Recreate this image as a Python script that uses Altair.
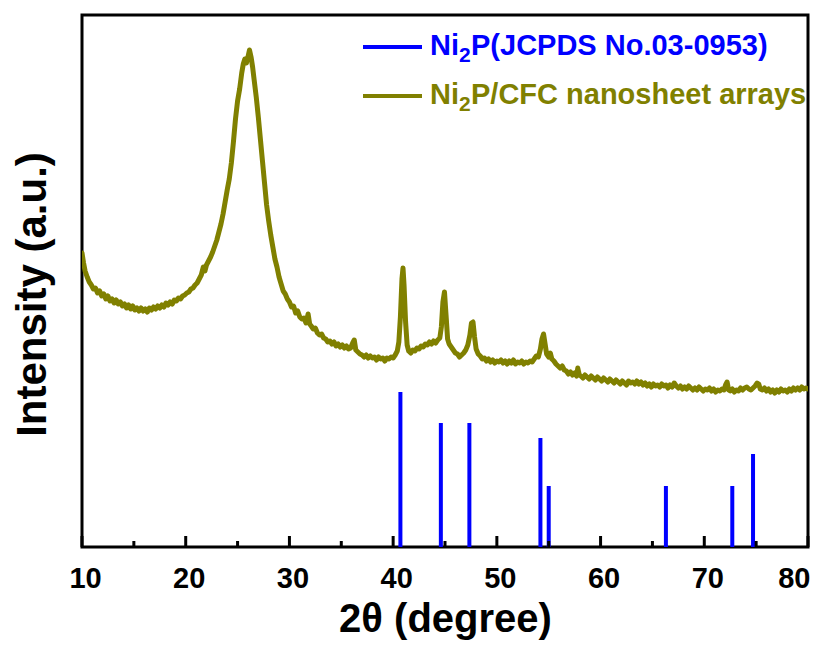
import altair as alt
import pandas as pd

# ---------------- data ----------------
two_theta = [
    10.0, 10.15, 10.3, 10.5, 10.7, 10.9, 11.1, 11.3, 11.5, 11.7, 11.9, 12.1, 12.3, 12.5, 12.7, 12.9,
    13.1, 13.3, 13.5, 13.7, 13.9, 14.1, 14.3, 14.5, 14.7, 14.9, 15.1, 15.3, 15.5, 15.7, 15.9, 16.1,
    16.3, 16.5, 16.7, 16.9, 17.1, 17.3, 17.5, 17.7, 17.9, 18.1, 18.3, 18.5, 18.7, 18.9, 19.1, 19.3,
    19.5, 19.7, 19.9, 20.1, 20.3, 20.5, 20.7, 20.9, 21.1, 21.3, 21.5, 21.7, 21.85, 22.0, 22.2, 22.4,
    22.6, 22.8, 23.0, 23.2, 23.4, 23.6, 23.8, 24.0, 24.2, 24.4, 24.6, 24.8, 25.0, 25.2, 25.4, 25.55,
    25.7, 25.85, 26.0, 26.15, 26.3, 26.45, 26.6, 26.8, 27.0, 27.2, 27.4, 27.6, 27.8, 28.0, 28.2, 28.4,
    28.6, 28.8, 29.0, 29.2, 29.4, 29.6, 29.8, 30.0, 30.2, 30.4, 30.6, 30.8, 31.0, 31.2, 31.4, 31.6,
    31.8, 31.95, 32.1, 32.3, 32.5, 32.7, 32.9, 33.1, 33.3, 33.5, 33.7, 33.9, 34.1, 34.3, 34.5, 34.7,
    34.9, 35.1, 35.3, 35.5, 35.7, 35.9, 36.1, 36.25, 36.4, 36.6, 36.8, 37.0, 37.2, 37.4, 37.6, 37.8,
    38.0, 38.2, 38.4, 38.6, 38.8, 39.0, 39.2, 39.4, 39.6, 39.8, 40.0, 40.2, 40.4, 40.55, 40.7, 40.85,
    40.95, 41.05, 41.2, 41.35, 41.5, 41.7, 41.9, 42.1, 42.3, 42.5, 42.7, 42.9, 43.1, 43.3, 43.5, 43.7,
    43.9, 44.1, 44.3, 44.5, 44.65, 44.8, 44.95, 45.1, 45.25, 45.4, 45.6, 45.8, 46.0, 46.2, 46.4, 46.6,
    46.8, 47.0, 47.2, 47.4, 47.55, 47.7, 47.85, 48.0, 48.2, 48.4, 48.6, 48.8, 49.0, 49.2, 49.4, 49.6,
    49.8, 50.0, 50.2, 50.4, 50.6, 50.8, 51.0, 51.2, 51.4, 51.6, 51.8, 52.0, 52.2, 52.4, 52.6, 52.8,
    53.0, 53.2, 53.4, 53.6, 53.8, 54.0, 54.2, 54.35, 54.5, 54.65, 54.8, 55.0, 55.15, 55.3, 55.5, 55.7,
    55.9, 56.1, 56.3, 56.5, 56.7, 56.9, 57.1, 57.3, 57.5, 57.7, 57.8, 57.95, 58.1, 58.3, 58.5, 58.7,
    58.9, 59.1, 59.3, 59.5, 59.7, 59.9, 60.1, 60.3, 60.5, 60.7, 60.9, 61.1, 61.3, 61.5, 61.7, 61.9,
    62.1, 62.3, 62.5, 62.7, 62.9, 63.1, 63.3, 63.5, 63.7, 63.9, 64.1, 64.3, 64.5, 64.7, 64.9, 65.1,
    65.3, 65.5, 65.7, 65.9, 66.1, 66.3, 66.5, 66.7, 66.9, 67.1, 67.3, 67.5, 67.7, 67.9, 68.1, 68.3,
    68.5, 68.7, 68.9, 69.1, 69.3, 69.5, 69.7, 69.9, 70.1, 70.3, 70.5, 70.7, 70.9, 71.1, 71.3, 71.5,
    71.7, 71.9, 72.05, 72.2, 72.35, 72.5, 72.7, 72.9, 73.1, 73.3, 73.5, 73.7, 73.9, 74.1, 74.3, 74.5,
    74.7, 74.9, 75.1, 75.25, 75.4, 75.6, 75.8, 76.0, 76.2, 76.4, 76.6, 76.8, 77.0, 77.2, 77.4, 77.6,
    77.8, 78.0, 78.2, 78.4, 78.6, 78.8, 79.0, 79.2, 79.4, 79.6, 79.8, 80.0,
]
intensity = [
    294, 284, 276, 270, 265, 262, 258, 259, 254, 256, 251, 253, 248, 251, 246, 248,
    244, 247, 243, 245, 241, 243, 239, 242, 238, 241, 237, 239, 236, 239, 236, 238,
    235, 239, 237, 240, 238, 241, 239, 242, 240, 244, 242, 245, 243, 247, 246, 249,
    248, 251, 252, 254, 255, 258, 259, 262, 264, 268, 272, 280, 276, 282, 286, 290,
    295, 301, 307, 315, 323, 333, 345, 357, 368, 384, 405, 428, 446, 458, 474, 483,
    488, 484, 490, 497, 490, 480, 467, 450, 430, 408, 386, 364, 342, 326, 312, 300,
    288, 280, 270, 263, 256, 253, 248, 245, 240, 241, 234, 236, 230, 228, 229, 224,
    233, 223, 221, 218, 219, 214, 212, 213, 209, 208, 205, 206, 203, 205, 201, 203,
    200, 202, 199, 201, 198, 199, 204, 207, 197, 195, 193, 192, 190, 192, 189, 191,
    189, 190, 187, 190, 188, 189, 186, 189, 188, 190, 189, 192, 196, 205, 230, 268,
    279, 262, 225, 202, 196, 194, 197, 196, 199, 198, 201, 200, 203, 202, 205, 203,
    206, 204, 207, 209, 220, 245, 255, 232, 208, 203, 200, 197, 194, 193, 190, 192,
    194, 197, 202, 212, 224, 225, 210, 198, 193, 191, 188, 189, 186, 188, 185, 187,
    184, 186, 185, 187, 184, 186, 183, 186, 184, 187, 183, 185, 184, 186, 183, 185,
    184, 186, 185, 188, 191, 190, 198, 208, 213, 203, 193, 190, 194, 188, 186, 183,
    181, 179, 181, 177, 176, 173, 175, 172, 174, 171, 179, 172, 171, 169, 172, 170,
    168, 171, 169, 167, 170, 168, 166, 169, 167, 165, 168, 166, 164, 167, 165, 163,
    166, 164, 162, 166, 164, 165, 163, 166, 163, 165, 162, 164, 161, 163, 160, 163,
    161, 162, 160, 163, 161, 162, 159, 162, 160, 164, 161, 159, 161, 158, 160, 158,
    161, 159, 157, 159, 157, 160, 158, 156, 158, 157, 159, 156, 158, 155, 157, 156,
    158, 157, 162, 165, 157, 156, 158, 155, 157, 156, 159, 157, 159, 160, 158, 157,
    159, 161, 164, 163, 158, 157, 159, 156, 158, 155, 157, 154, 157, 155, 158, 156,
    157, 155, 158, 156, 159, 157, 159, 157, 160, 158, 159, 158,
]

ref_positions = [40.7, 44.6, 47.35, 54.2, 55.0, 66.3, 72.7, 74.7]
ref_heights = [155, 124, 124, 109, 61, 61, 61, 93]

major_ticks = [10, 20, 30, 40, 50, 60, 70, 80]
minor_ticks = [15, 25, 35, 45, 55, 65, 75]

x_title = "2θ (degree)"
y_title = "Intensity (a.u.)"
legend_ref = ["Ni", "2", "P(JCPDS No.03-0953)"]
legend_sample = ["Ni", "2", "P/CFC nanosheet arrays"]

OLIVE = "#808000"
BLUE = "#0000FF"
FONT = "Liberation Sans"

# ---------------- scales / encodings ----------------
xs = alt.Scale(domain=[10, 80], nice=False, zero=False)
ys = alt.Scale(domain=[0, 532], nice=False, zero=False)

x_axis = alt.Axis(
    values=major_ticks, format="d", title=x_title, grid=False, ticks=False, domain=False,
    labelFont=FONT, labelFontSize=29, labelFontWeight="bold", labelColor="black",
    labelPadding=17, labelFlush=False,
    labelAlign={"condition": {"test": "datum.value == 80", "value": "right"}, "value": "center"},
    labelOffset={"condition": {"test": "datum.value == 80", "value": 2}, "value": 3},
    titleFont=FONT, titleFontSize=40, titleFontWeight="bold", titleColor="black",
    titleY=52, titleBaseline="top",
)
y_axis = alt.Axis(
    title=y_title, grid=False, ticks=False, labels=False, domain=False,
    titleFont=FONT, titleFontSize=42, titleFontWeight="bold", titleColor="black",
    titleX=-37, titleY=279, titleAngle=270, titleBaseline="alphabetic", titleAlign="center",
)


def X():
    return alt.X("x:Q", scale=xs, axis=x_axis)


def Y():
    return alt.Y("y:Q", scale=ys, axis=y_axis)


curve_df = pd.DataFrame({"x": two_theta, "y": intensity})
ref_df = pd.DataFrame({"x": ref_positions, "y": ref_heights})
major_df = pd.DataFrame({"x": major_ticks})
minor_df = pd.DataFrame({"x": minor_ticks})
one = pd.DataFrame({"a": [0]})

curve = alt.Chart(curve_df).mark_line(
    color=OLIVE, strokeWidth=5, strokeJoin="round", strokeCap="round", clip=True
).encode(x=X(), y=Y())

sticks = alt.Chart(ref_df).mark_rule(color=BLUE, strokeWidth=4).encode(
    x=X(), y=Y(), y2=alt.datum(0)
)

major = alt.Chart(major_df).mark_rule(color="black", strokeWidth=3).encode(
    x=X(), y=alt.value(532), y2=alt.value(521)
)
minor = alt.Chart(minor_df).mark_rule(color="black", strokeWidth=3).encode(
    x=X(), y=alt.value(532), y2=alt.value(526)
)


def legend_entry(parts, color, line_y, base_y):
    line = alt.Chart(one).mark_rule(color=color, strokeWidth=4).encode(
        x=alt.value(281), x2=alt.value(340), y=alt.value(line_y)
    )
    common = dict(font=FONT, fontWeight="bold", color=color, align="left", baseline="alphabetic")
    t1 = alt.Chart(one).mark_text(fontSize=29, **common).encode(
        x=alt.value(348), y=alt.value(base_y), text=alt.value(parts[0])
    )
    t2 = alt.Chart(one).mark_text(fontSize=21, **common).encode(
        x=alt.value(377), y=alt.value(base_y + 7), text=alt.value(parts[1])
    )
    t3 = alt.Chart(one).mark_text(fontSize=29, **common).encode(
        x=alt.value(389), y=alt.value(base_y), text=alt.value(parts[2])
    )
    return [line, t1, t2, t3]


legend_layers = legend_entry(legend_ref, BLUE, 32, 40) + legend_entry(legend_sample, OLIVE, 81, 89)

chart = alt.layer(curve, sticks, major, minor, *legend_layers).properties(
    width=726,
    height=532,
    autosize=alt.AutoSizeParams(type="none"),
    padding={"left": 74, "top": 7, "right": 13, "bottom": 95},
    background="white",
).configure_view(stroke="black", strokeWidth=3)

chart.save("out.html", embed_options={"renderer": "svg", "actions": False})
